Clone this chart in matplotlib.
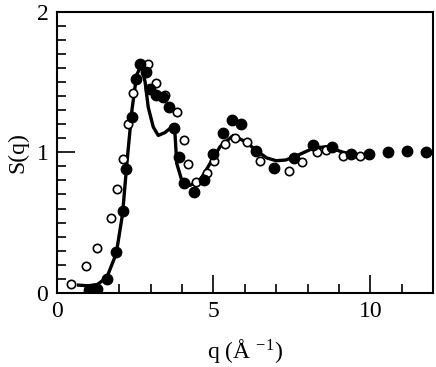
import matplotlib
matplotlib.use('Agg')
from matplotlib import pyplot as plt
from matplotlib.ticker import MultipleLocator

# filled circles
q_filled = [1.04, 1.28, 1.6, 1.89, 2.1, 2.21, 2.39, 2.52, 2.67, 2.85, 2.99, 3.16,
            3.38, 3.57, 3.74, 3.91, 4.07, 4.38, 4.69, 4.98, 5.3, 5.58, 5.88, 6.37,
            6.93, 7.58, 8.19, 8.78, 9.38, 9.97, 10.58, 11.17, 11.77]
s_filled = [0.02, 0.03, 0.10, 0.29, 0.58, 0.88, 1.25, 1.52, 1.63, 1.57, 1.45, 1.41,
            1.39, 1.32, 1.17, 0.97, 0.78, 0.72, 0.80, 0.99, 1.14, 1.23, 1.20, 1.01,
            0.89, 0.96, 1.055, 1.04, 0.985, 0.985, 1.0, 1.01, 1.0]

# open circles
q_open = [0.46, 0.93, 1.3, 1.72, 1.93, 2.1, 2.26, 2.43, 2.9, 3.18, 3.45, 3.84,
          4.06, 4.18, 4.43, 4.8, 5.01, 5.37, 5.68, 6.07, 6.47, 7.42, 7.83, 8.29,
          8.6, 9.12, 9.66]
s_open = [0.06, 0.19, 0.32, 0.53, 0.74, 0.95, 1.20, 1.42, 1.63, 1.49, 1.41, 1.29,
          1.085, 0.92, 0.79, 0.85, 0.935, 1.06, 1.10, 1.07, 0.94, 0.87, 0.93, 1.005,
          1.015, 0.975, 0.975]

# solid curve
q_line = [0.7, 1.0, 1.3, 1.6, 1.9, 2.1, 2.25, 2.4, 2.55, 2.7, 2.82, 2.92, 3.08,
          3.24, 3.45, 3.67, 3.76, 3.83, 3.99, 4.25, 4.57, 4.89, 5.21, 5.63, 6.06,
          6.38, 6.7, 7.0, 7.3, 7.6, 8.19, 8.61, 9.14, 9.7]
s_line = [0.055, 0.05, 0.06, 0.11, 0.28, 0.56, 0.95, 1.30, 1.55, 1.62, 1.50, 1.32,
          1.18, 1.12, 1.14, 1.18, 1.18, 0.92, 0.80, 0.765, 0.80, 0.92, 1.04, 1.12,
          1.07, 1.01, 0.96, 0.94, 0.945, 0.97, 1.03, 1.04, 1.0, 0.975]

plt.rcParams['font.family'] = ['Liberation Serif', 'DejaVu Serif']
plt.rcParams['mathtext.fontset'] = 'stix'

fig = plt.figure(figsize=(4.36, 3.67), dpi=100)
ax = fig.add_axes([0.130, 0.202, 0.863, 0.766])

ax.plot(q_line, s_line, color='black', lw=2.4, zorder=2)
ax.plot(q_open, s_open, 'o', ms=6, mfc='white', mec='black', mew=1.2, zorder=3)
ax.plot(q_filled, s_filled, 'o', ms=7.5, color='black', zorder=4)

ax.set_xlim(0, 12)
ax.set_ylim(0, 2)
ax.xaxis.set_major_locator(MultipleLocator(5))
ax.xaxis.set_minor_locator(MultipleLocator(1))
ax.yaxis.set_major_locator(MultipleLocator(1))
ax.yaxis.set_minor_locator(MultipleLocator(0.1))
ax.tick_params(which='both', direction='in', top=False, right=False,
               width=1.2, labelsize=17, colors='black')
ax.tick_params(which='major', length=13, pad=6)
ax.tick_params(which='minor', length=6.5)
for sp in ax.spines.values():
    sp.set_linewidth(1.5)

ax.set_xlabel(r'q (Å $^{\mathregular{-1}}$)', fontsize=17, labelpad=11)
ax.set_ylabel('S(q)', fontsize=17, labelpad=6)

fig.savefig('out.png', dpi=100)
